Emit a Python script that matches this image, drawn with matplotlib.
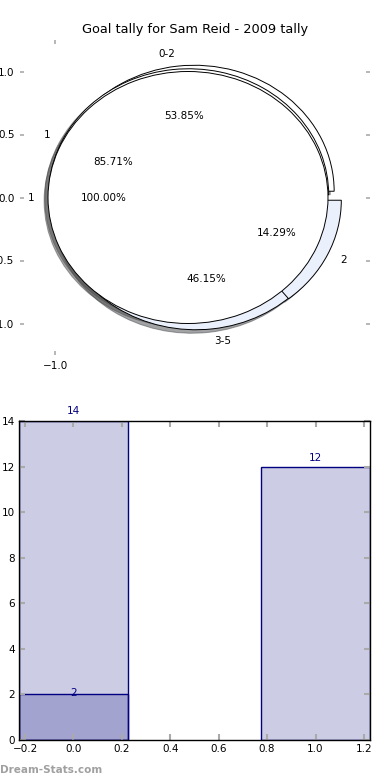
import matplotlib
matplotlib.use('Agg')
import matplotlib.pyplot as plt

# pie data (three pies drawn on the same axes)
pie_a_sizes = [1]
pie_a_labels = ['1']
pie_b_sizes = [6, 1]
pie_b_labels = ['1', '2']
pie_c_sizes = [7, 6]
pie_c_labels = ['0-2', '3-5']

# bar data
bar_x = [0, 1]
bar_heights = [14, 12]
bar2_x = [0]
bar2_heights = [2]

title = 'Goal tally for Sam Reid - 2009 tally'
light = '#eaf0fc'
tick_gray = '#aaaaaa'

fig = plt.figure(figsize=(3.9, 7.8), dpi=100)

# --- pie ---
ax1 = fig.add_axes([20 / 390, 1 - 355 / 780, 350 / 390, 315 / 780])
# drawn C, B, A so the full 100% pie ends up on top
pies = [
    (pie_c_sizes, pie_c_labels, ['white', light]),
    (pie_b_sizes, pie_b_labels, ['white', light]),
    (pie_a_sizes, pie_a_labels, ['white']),
]
for sizes, labels, cols in pies:
    ax1.pie(sizes, labels=labels, colors=cols, explode=[0.05] * len(sizes),
            autopct='%1.2f%%', shadow=True,
            wedgeprops={'edgecolor': 'black', 'linewidth': 0.7},
            textprops={'fontsize': 7.5})
ax1.set_aspect('auto')
ax1.set_frame_on(False)
ax1.set_xlim(-1.25, 1.25)
ax1.set_ylim(-1.25, 1.25)
ax1.set_xticks([-1.0])
ax1.set_xticklabels(['\u22121.0'])
ax1.set_yticks([-1.0, -0.5, 0.0, 0.5, 1.0])
ax1.tick_params(direction='in', length=3, width=1.2, color=tick_gray,
                labelsize=7.5, top=True, right=True, pad=4)
ax1.set_title(title, fontsize=9.3, pad=5)

# --- bars ---
ax2 = fig.add_axes([19 / 390, 1 - 740 / 780, 351 / 390, 319 / 780])
navy_fill = (0, 0, 0.5, 0.2)
for xs, hs in [(bar_x, bar_heights), (bar2_x, bar2_heights)]:
    rects = ax2.bar(xs, hs, width=0.45, facecolor=navy_fill, edgecolor='navy', linewidth=1)
    for r in rects:
        h = r.get_height()
        ax2.text(r.get_x() + r.get_width() / 2., 1.03 * h, '%d' % int(h),
                 ha='center', va='center', color='navy', fontsize=7.5)
ax2.set_xlim(-0.225, 1.225)
ax2.set_ylim(0, 14)
ax2.set_xticks([-0.2, 0.0, 0.2, 0.4, 0.6, 0.8, 1.0, 1.2])
ax2.set_yticks(range(0, 15, 2))
ax2.tick_params(direction='in', length=4, width=1.5, color=tick_gray,
                labelsize=7.5, top=True, right=True, pad=3)
for s in ax2.spines.values():
    s.set_linewidth(1)
    s.set_color('black')

fig.text(0.0, 1 - 770 / 780, 'Dream-Stats.com', fontsize=7.5, fontweight='bold',
         color='#a0a0a0', ha='left', va='center')

fig.savefig('out.png', dpi=100)
